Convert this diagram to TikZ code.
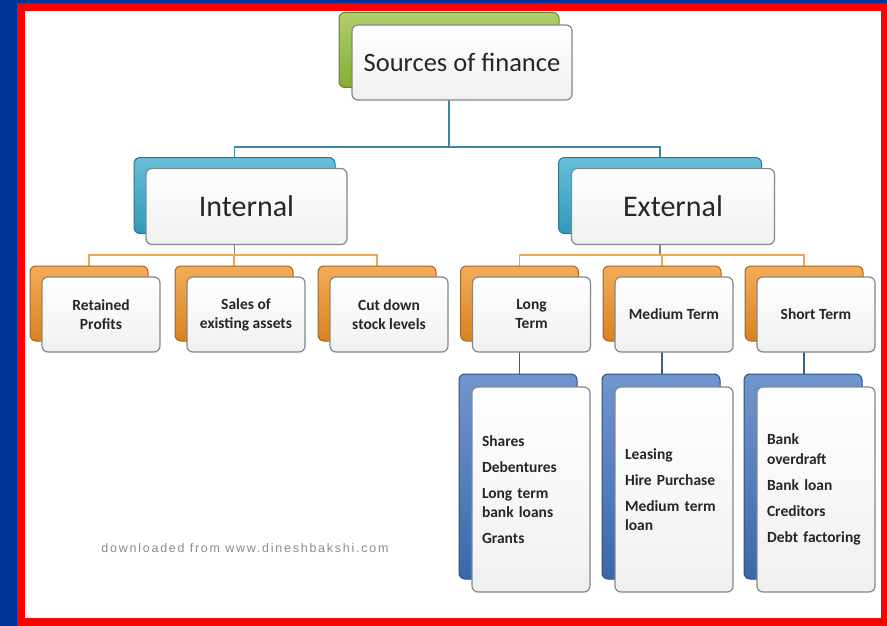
\documentclass[tikz,border=0pt]{standalone}
\usepackage{fontspec}
\setmainfont{Carlito}
\newfontfamily\creditfont[LetterSpace=14]{Liberation Sans}
\usepackage{tikz}
\usetikzlibrary{positioning}
\usepackage{xcolor}
\definecolor{frameblue}{RGB}{0,51,153}
\definecolor{boxgreen}{RGB}{150,190,60}
\definecolor{boxcyan}{RGB}{55,170,205}
\definecolor{boxorange}{RGB}{240,145,35}
\definecolor{boxblue}{RGB}{65,115,190}
\definecolor{boxedge}{RGB}{130,135,140}
\definecolor{tealline}{RGB}{60,135,165}
\definecolor{orangeline}{RGB}{240,165,85}
\definecolor{blueline}{RGB}{60,95,135}
\pgfdeclarelayer{bg}
\pgfdeclarelayer{lines}
\pgfsetlayers{bg,lines,main}
\tikzset{%
	frontbox/.style={
		rectangle,
		rounded corners=6pt,
		draw=boxedge,
		line width=1.2pt,
		top color=white,
		bottom color=gray!12,
		inner sep=2pt,
		align=center,
		text=black!85
	},
	backbox/.style={
		rectangle,
		rounded corners=6pt,
		draw=#1!70!black,
		line width=1pt,
		top color=#1!75!white,
		bottom color=#1!90!black
	},
	topfont/.style={font=\fontsize{26.5}{30}\selectfont},
	midfont/.style={font=\fontsize{30}{34}\selectfont},
	smallfont/.style={font=\bfseries\fontsize{15.5}{19}\selectfont},
	listfont/.style={font=\bfseries\fontsize{15.5}{19.5}\selectfont},
	credit/.style={text=gray!90, font=\creditfont\fontsize{12.5}{14}\selectfont}
}
\begin{document}
\begin{tikzpicture}[x=1pt,y=-1pt]
	% frame round the chart
	\begin{pgfonlayer}{bg}
		\fill[frameblue] (0,0) rectangle (887,626);
		\fill[red] (17,3) rectangle (887,626);
		\fill[white] (25,11) rectangle (881,618);
	\end{pgfonlayer}
	\useasboundingbox (0,0) rectangle (887,626);
	
	% top level
	\node[backbox=boxgreen, minimum width=220pt, minimum height=75pt] (srcb) at (449,50) {};
	\node[frontbox, topfont, minimum width=220pt, minimum height=75pt] (src) at (462,62.5) {Sources of finance};
	
	% second level
	\node[backbox=boxcyan, minimum width=201pt, minimum height=76pt] (intb) at (234.5,195.5) {};
	\node[frontbox, midfont, minimum width=201pt, minimum height=76pt] (int) at (246.5,206.5) {Internal};
	\node[backbox=boxcyan, minimum width=203pt, minimum height=76pt] (extb) at (660,195.5) {};
	\node[frontbox, midfont, minimum width=203pt, minimum height=76pt] (ext) at (673,206.5) {External};
	
	% third level, orange boxes
	\foreach \name/\cx/\txt in {ret/101/{Retained\\Profits}, sal/246/{Sales of\\existing assets}, cut/389/{Cut down\\stock levels}, lng/531.5/{Long\\Term}, med/674/{Medium Term}, sht/816/{Short Term}} {
		\node[backbox=boxorange, minimum width=118pt, minimum height=75pt] (\name b) at (\cx-12,303.5) {};
		\node[frontbox, smallfont, minimum width=118pt, minimum height=75pt] (\name) at (\cx,314.5) {\txt};
	}
	
	% lists of sources, blue boxes
	\foreach \name/\cx/\txt in {lngl/531/{Shares\\[6.5pt]Debentures\\[6.5pt]Long term\\bank loans\\[6.5pt]Grants}, medl/674/{Leasing\\[6.5pt]Hire Purchase\\[6.5pt]Medium term\\loan}, shtl/816/{Bank\\overdraft\\[6.5pt]Bank loan\\[6.5pt]Creditors\\[6.5pt]Debt factoring}} {
		\node[backbox=boxblue, minimum width=118pt, minimum height=205pt] (\name b) at (\cx-13,476.5) {};
		\node[frontbox, listfont, align=left, text width=98pt, inner xsep=10pt, minimum height=205pt] (\name) at (\cx,489.5) {\txt};
	}
	
	\node[credit] (site) at (245,548) {downloaded from www.dineshbakshi.com};
	
	% connectors
	\begin{pgfonlayer}{lines}
		\coordinate (topbar) at (449,147);
		\draw[tealline, line width=1.2pt] (srcb.south) -- (topbar);
		\draw[tealline, line width=1.2pt] (intb.north) |- (topbar) -| (extb.north);
		
		\path (intb.south) ++(0,21) coordinate (intbar);
		\draw[boxedge, line width=1.2pt] (intb.south) -- (intbar);
		\draw[orangeline, line width=1.6pt] (retb.north) |- (intbar) -| (cutb.north);
		\draw[orangeline, line width=1.6pt] (salb.north) -- (salb.north |- intbar);
		
		\path (extb.south) ++(0,21) coordinate (extbar);
		\draw[boxedge, line width=1.2pt] (extb.south) -- (extbar);
		\draw[orangeline, line width=1.6pt] (lngb.north) |- (extbar) -| (shtb.north);
		\draw[orangeline, line width=1.6pt] (medb.north) -- (medb.north |- extbar);
		
		\foreach \up/\down in {lng/lngl, med/medl, sht/shtl} {
			\draw[blueline, line width=1.2pt] (\up b.south) -- (\up b.south |- \down b.north);
		}
	\end{pgfonlayer}
\end{tikzpicture}
\end{document}
